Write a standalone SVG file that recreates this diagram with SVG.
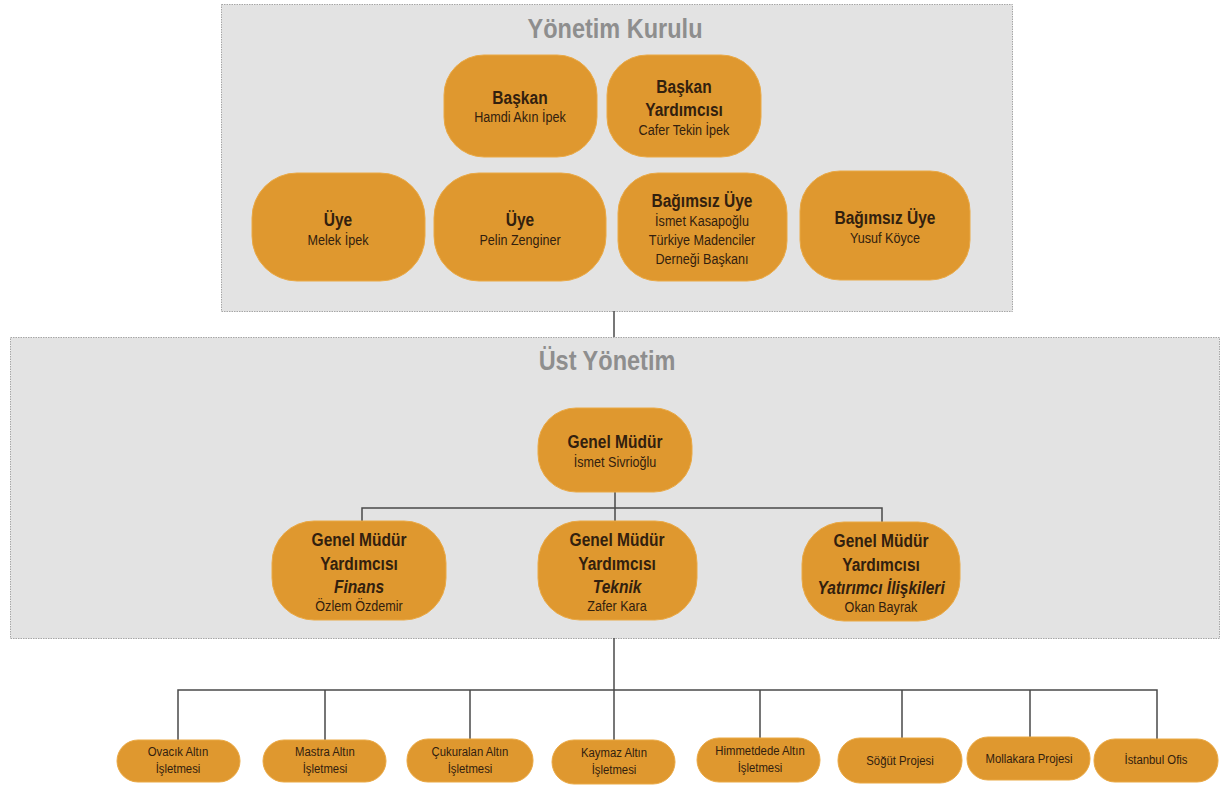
<svg xmlns="http://www.w3.org/2000/svg" width="1222" height="787" viewBox="0 0 1222 787">
<style>
.bg{fill:#ffffff}
.panel{fill:#e3e3e3;stroke:#a6a6a6;stroke-width:1;stroke-dasharray:1.5 1}
text{font-family:"Liberation Sans",Arial,sans-serif;text-anchor:middle;fill:#32200e;transform-box:fill-box;transform-origin:center;transform:scaleX(0.84)}
.title{font-weight:bold;font-size:28px;fill:#8e8e8e}
.node{fill:#df982f;stroke:#eaa945;stroke-width:1}
.h{font-weight:bold;font-size:18.5px}
.hi{font-style:italic}
.s{font-size:15px}
.b{font-size:13.5px}
.conn{fill:none;stroke:#4a4a4a;stroke-width:1.5}
</style>
<rect class="bg" x="0" y="0" width="1222" height="787"/>

<g id="panel-yonetim-kurulu">
<rect class="panel" x="221.5" y="4.5" width="791" height="307"/>
<text class="title" x="615" y="38">Yönetim Kurulu</text>
</g>
<g id="panel-ust-yonetim">
<rect class="panel" x="10.5" y="337.5" width="1209" height="301"/>
<text class="title" x="607" y="370">Üst Yönetim</text>
</g>

<g id="connectors">
<path class="conn" d="M614 311 V337"/>
<path class="conn" d="M615 492 V521 M362 521 V508 H882 V522"/>
<path class="conn" d="M614 638 V740"/>
<path class="conn" d="M178 740 V690 H1157 V739 M325 690 V740 M470 690 V739 M760 690 V738 M902 690 V738 M1030 690 V737"/>
</g>

<g id="baskan">
<rect class="node" x="444" y="55" width="153" height="102" rx="40" ry="40"/>
<text class="h" x="520" y="104">Başkan</text>
<text class="s" x="520" y="122">Hamdi Akın İpek</text>
</g>
<g id="baskan-yardimcisi">
<rect class="node" x="607" y="55" width="154" height="102" rx="40" ry="40"/>
<text class="h" x="684" y="93">Başkan</text>
<text class="h" x="684" y="116">Yardımcısı</text>
<text class="s" x="684" y="135">Cafer Tekin İpek</text>
</g>
<g id="uye-melek">
<rect class="node" x="252" y="173" width="173" height="108" rx="45" ry="45"/>
<text class="h" x="338" y="226">Üye</text>
<text class="s" x="338" y="245">Melek İpek</text>
</g>
<g id="uye-pelin">
<rect class="node" x="434" y="173" width="172" height="108" rx="45" ry="45"/>
<text class="h" x="520" y="226">Üye</text>
<text class="s" x="520" y="245">Pelin Zenginer</text>
</g>
<g id="bagimsiz-ismet">
<rect class="node" x="618" y="173" width="169" height="108" rx="40" ry="40"/>
<text class="h" x="702" y="207">Bağımsız Üye</text>
<text class="s" x="702" y="226">İsmet Kasapoğlu</text>
<text class="s" x="702" y="245">Türkiye Madenciler</text>
<text class="s" x="702" y="264">Derneği Başkanı</text>
</g>
<g id="bagimsiz-yusuf">
<rect class="node" x="800" y="171" width="170" height="109" rx="40" ry="40"/>
<text class="h" x="885" y="224">Bağımsız Üye</text>
<text class="s" x="885" y="243">Yusuf Köyce</text>
</g>

<g id="genel-mudur">
<rect class="node" x="538" y="408" width="154" height="84" rx="38" ry="38"/>
<text class="h" x="615" y="448">Genel Müdür</text>
<text class="s" x="615" y="467">İsmet Sivrioğlu</text>
</g>
<g id="gmy-finans">
<rect class="node" x="272" y="521" width="174" height="99" rx="42" ry="42"/>
<text class="h" x="359" y="546">Genel Müdür</text>
<text class="h" x="359" y="570">Yardımcısı</text>
<text class="h hi" x="359" y="593">Finans</text>
<text class="s" x="359" y="611">Özlem Özdemir</text>
</g>
<g id="gmy-teknik">
<rect class="node" x="538" y="521" width="159" height="99" rx="42" ry="42"/>
<text class="h" x="617" y="546">Genel Müdür</text>
<text class="h" x="617" y="570">Yardımcısı</text>
<text class="h hi" x="617" y="593">Teknik</text>
<text class="s" x="617" y="611">Zafer Kara</text>
</g>
<g id="gmy-yatirimci">
<rect class="node" x="802" y="522" width="158" height="99" rx="42" ry="42"/>
<text class="h" x="881" y="547">Genel Müdür</text>
<text class="h" x="881" y="571">Yardımcısı</text>
<text class="h hi" x="881" y="594">Yatırımcı İlişkileri</text>
<text class="s" x="881" y="612">Okan Bayrak</text>
</g>

<g id="ovacik">
<rect class="node" x="117" y="740" width="123" height="42" rx="21" ry="21"/>
<text class="b" x="178" y="756">Ovacık Altın</text>
<text class="b" x="178" y="773">İşletmesi</text>
</g>
<g id="mastra">
<rect class="node" x="263" y="740" width="123" height="42" rx="21" ry="21"/>
<text class="b" x="325" y="756">Mastra Altın</text>
<text class="b" x="325" y="773">İşletmesi</text>
</g>
<g id="cukuralan">
<rect class="node" x="407" y="739" width="126" height="43" rx="21" ry="21"/>
<text class="b" x="470" y="756">Çukuralan Altın</text>
<text class="b" x="470" y="773">İşletmesi</text>
</g>
<g id="kaymaz">
<rect class="node" x="552" y="740" width="123" height="44" rx="22" ry="22"/>
<text class="b" x="614" y="757">Kaymaz Altın</text>
<text class="b" x="614" y="774">İşletmesi</text>
</g>
<g id="himmetdede">
<rect class="node" x="697" y="738" width="123" height="44" rx="22" ry="22"/>
<text class="b" x="760" y="755">Himmetdede Altın</text>
<text class="b" x="760" y="772">İşletmesi</text>
</g>
<g id="sogut">
<rect class="node" x="838" y="738" width="124" height="45" rx="22" ry="22"/>
<text class="b" x="900" y="765">Söğüt Projesi</text>
</g>
<g id="mollakara">
<rect class="node" x="967" y="737" width="123" height="43" rx="21" ry="21"/>
<text class="b" x="1029" y="763">Mollakara Projesi</text>
</g>
<g id="istanbul">
<rect class="node" x="1094" y="739" width="124" height="43" rx="21" ry="21"/>
<text class="b" x="1156" y="764">İstanbul Ofis</text>
</g>
</svg>
